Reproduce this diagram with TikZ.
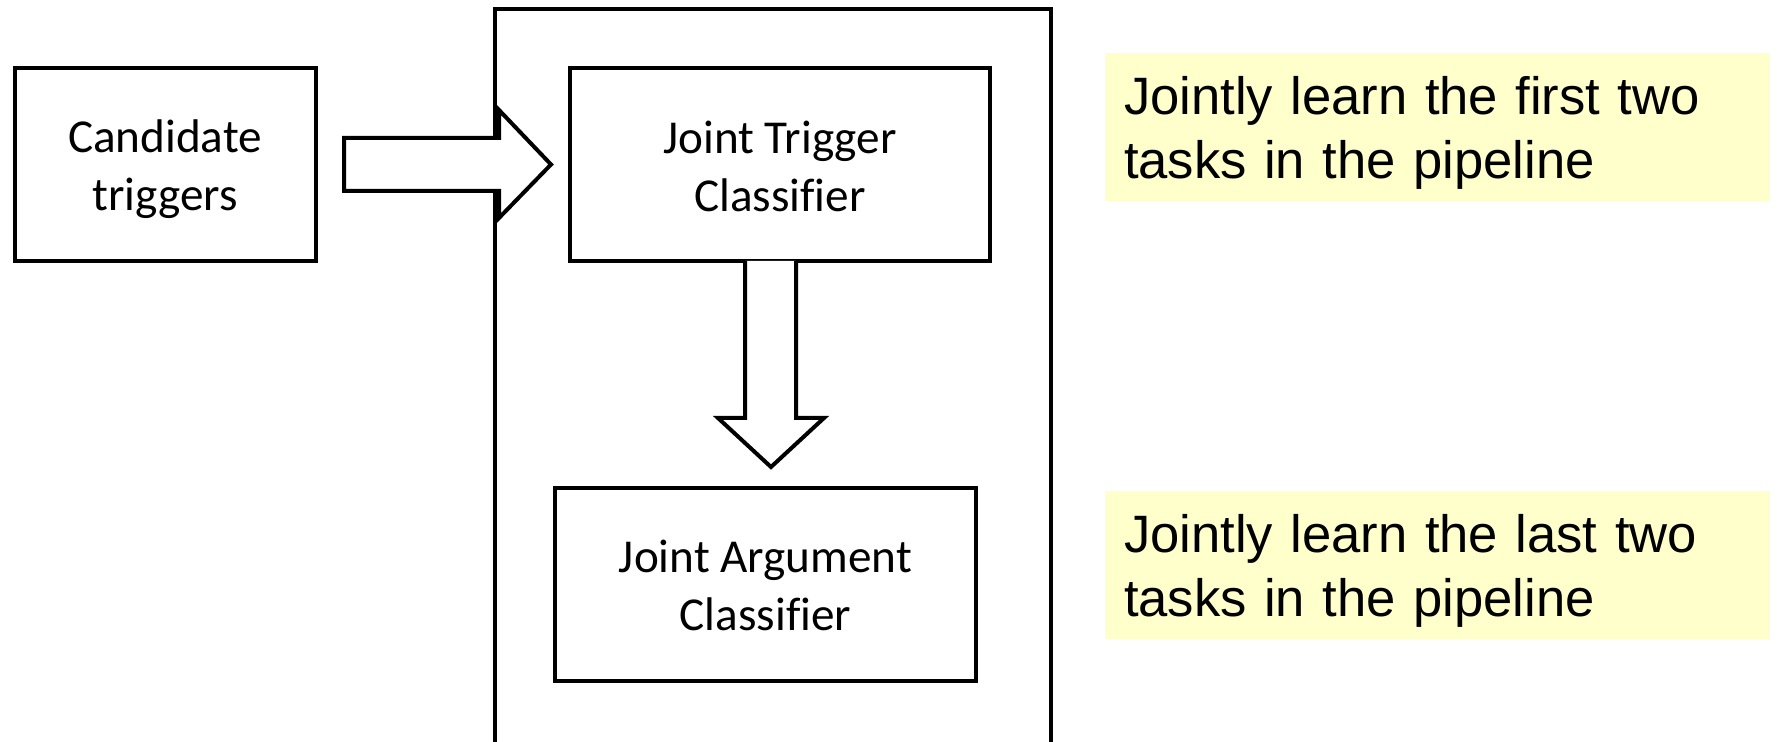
\documentclass[tikz,border=0pt]{standalone}
\usepackage{fontspec}
\setmainfont{Carlito}[Ligatures=NoCommon]
\newfontfamily\arialfont{Liberation Sans}
\definecolor{noteyellow}{HTML}{FFFFCC}
\begin{document}
\begin{tikzpicture}[x=0.5pt,y=-0.5pt,
  stagebox/.style={draw, line width=2pt, minimum height=96.5pt, inner sep=0pt},
  stagetext/.style={align=center, inner sep=0pt, font=\fontsize{23.6}{29}\selectfont},
  notebox/.style={fill=noteyellow, minimum width=332.5pt, minimum height=74pt, inner sep=0pt},
  notetext/.style={text width=314.5pt, inner sep=0pt, align=left,
    font=\arialfont\fontsize{26.3}{31.8}\selectfont},
  blockarrow/.style={draw, line width=2pt, fill=white, line join=miter}]
\useasboundingbox (0,0) rectangle (1779,742);
\clip (0,0) rectangle (1779,742);
% outer container
\draw[line width=2pt] (495,780) -- (495,9) -- (1051,9) -- (1051,780);
% boxes
\node[stagebox, minimum width=150.5pt] (cand) at (165,164.5) {};
\node[stagetext] (candt) at ([yshift=-2.5pt]cand.center) {Candidate\\triggers};
\node[stagebox, minimum width=210pt] (jtc) at (780,164.5) {};
\node[stagetext] (jtct) at ([yshift=-1pt]jtc.center) {Joint Trigger\\Classifier};
\node[stagebox, minimum width=210.5pt] (jac) at (765.5,584.5) {};
\node[stagetext] (jact) at ([yshift=-0.5pt]jac.center) {Joint Argument\\Classifier};
% right block arrow
\draw[blockarrow] (344,138) -- (499,138) -- (499,110) -- (551,164.5) -- (499,218) -- (499,191) -- (344,191) -- cycle;
% down block arrow
\draw[blockarrow] (745,261) -- (745,418) -- (718,418) -- (771,467) -- (824,418) -- (796,418) -- (796,261);
% notes
\node[notebox] (n1) at (1437.5,127) {};
\node[notetext] (n1t) at ([xshift=0.5pt,yshift=-3pt]n1.center) {Jointly learn the first two tasks in the pipeline};
\node[notebox] (n2) at (1437.5,565) {};
\node[notetext] (n2t) at ([xshift=0.5pt,yshift=-3pt]n2.center) {Jointly learn the last two tasks in the pipeline};
\end{tikzpicture}
\end{document}
